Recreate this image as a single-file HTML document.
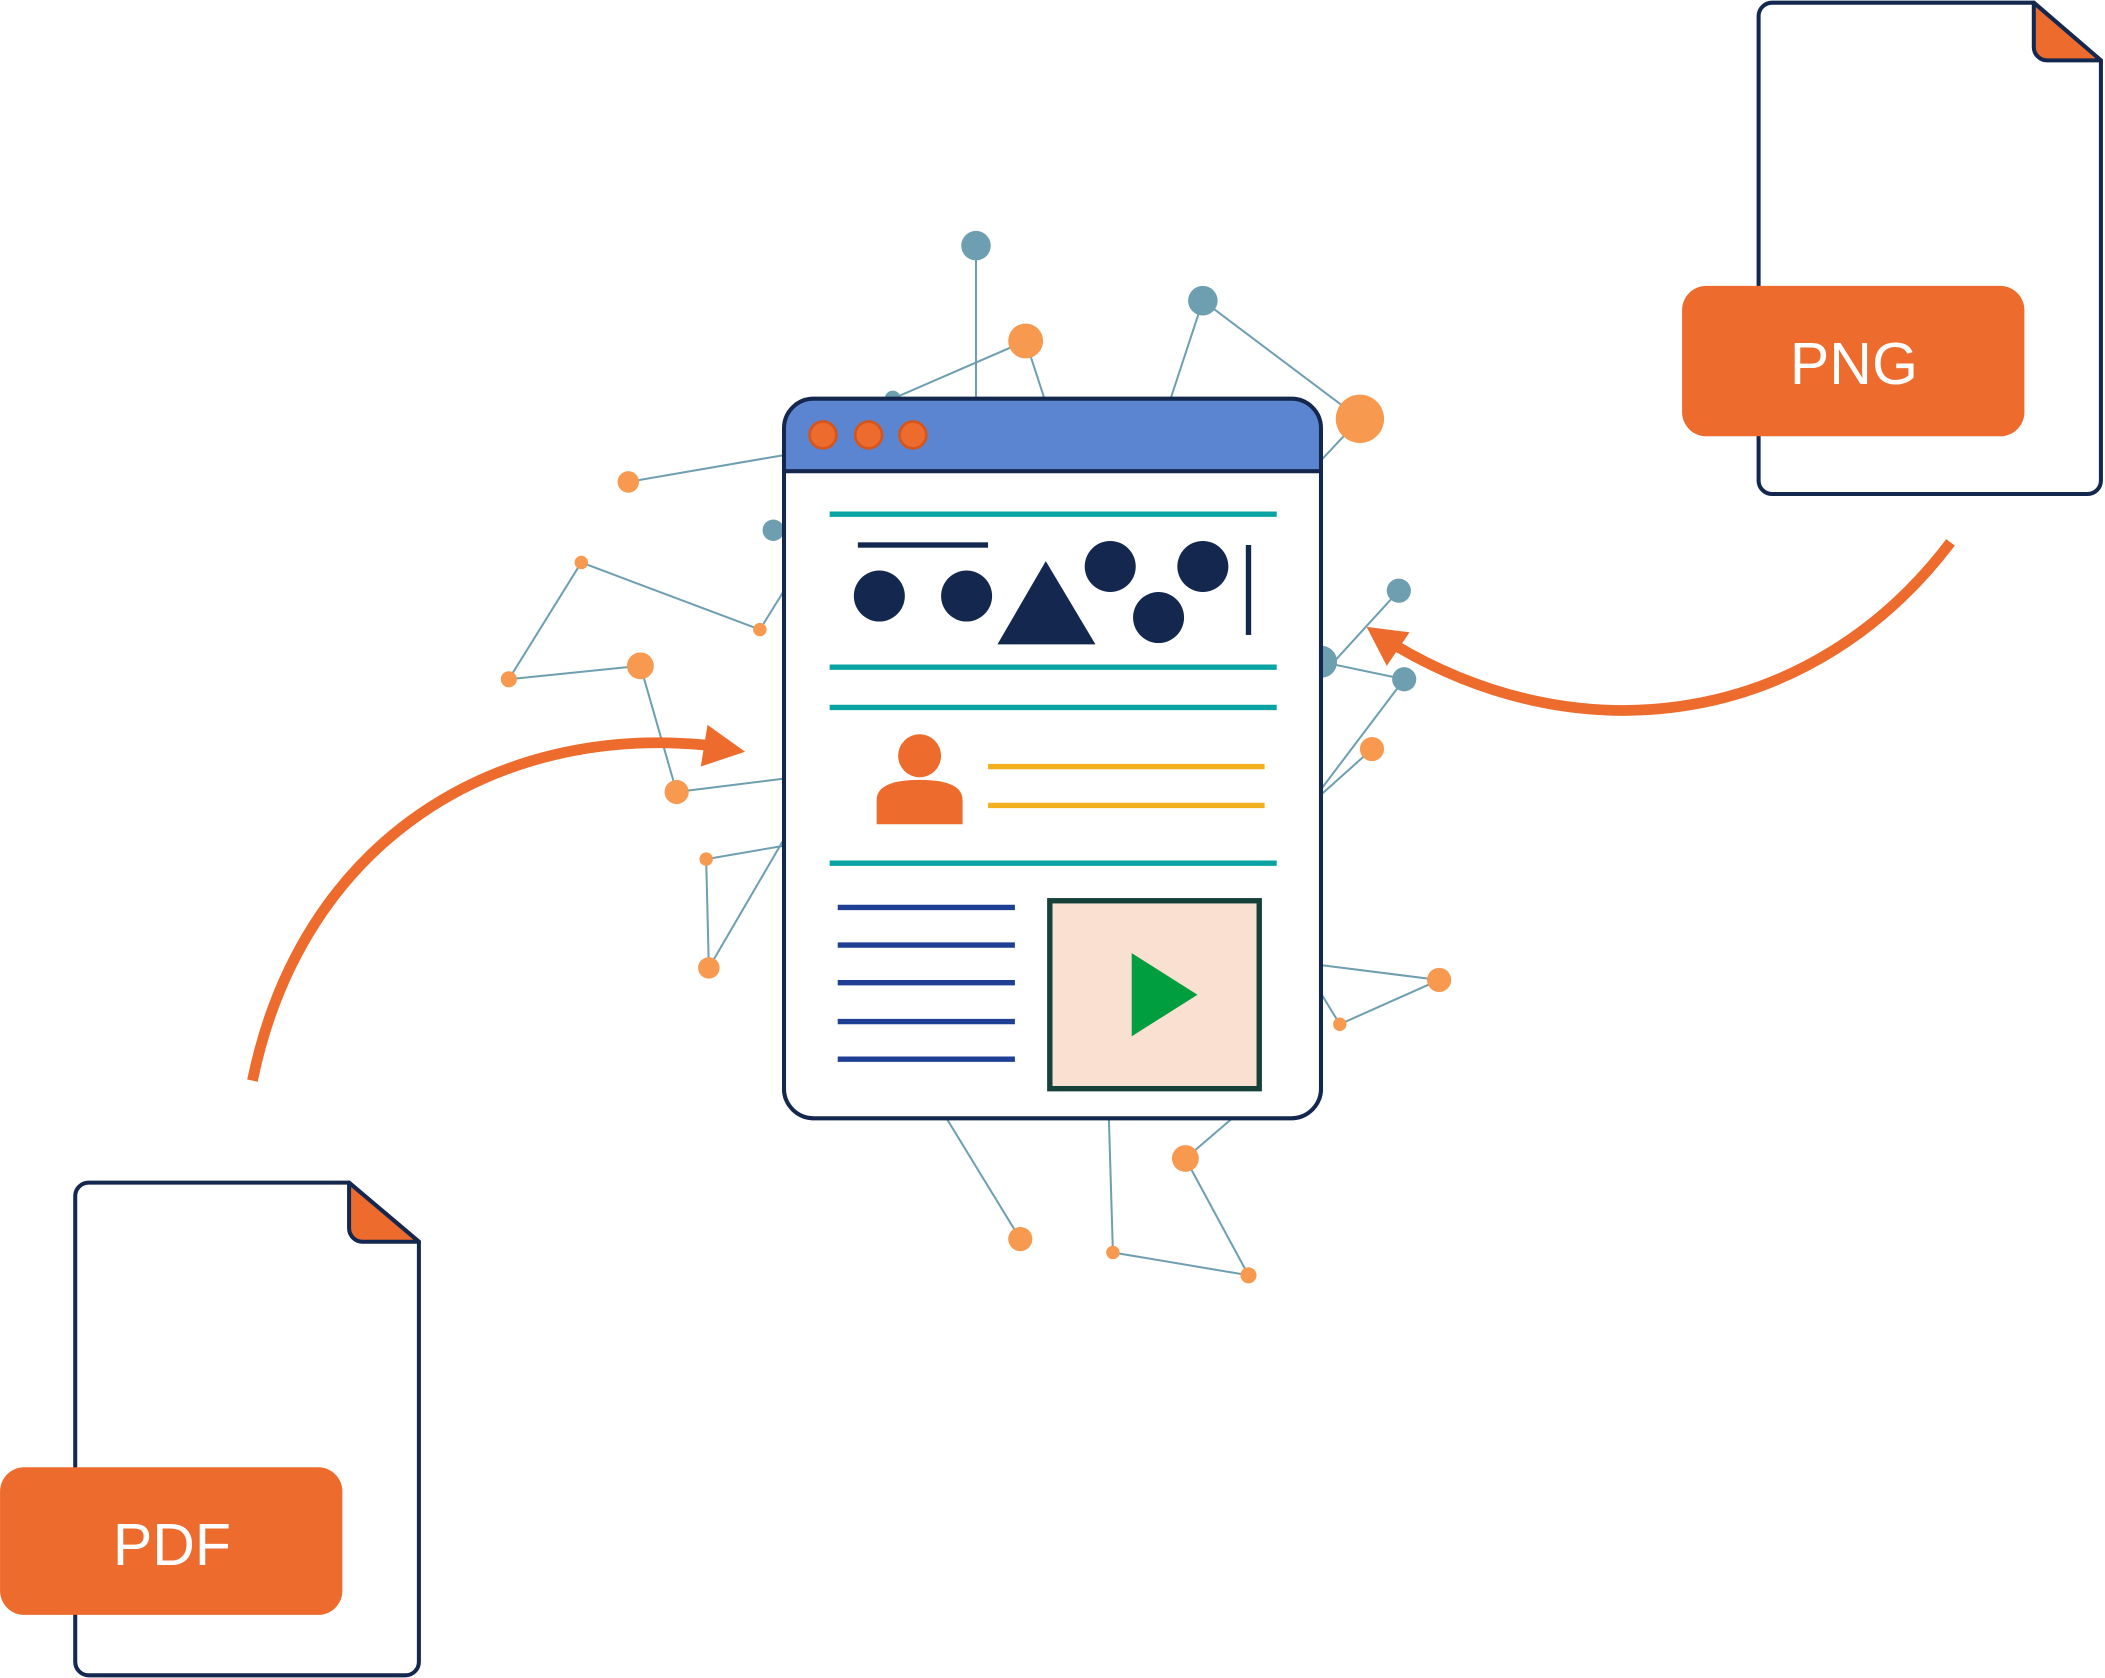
<!DOCTYPE html>
<html><head><meta charset="utf-8"><style>
html,body{margin:0;padding:0;background:#fff;}
svg{display:block;}
</style></head><body>
<svg width="2105" height="1678" viewBox="0 0 1568 1250" xmlns="http://www.w3.org/2000/svg">
<g stroke="#6e9fb0" stroke-width="1.5" fill="none">
<line x1="727" y1="183" x2="727" y2="297"/>
<line x1="665" y1="297" x2="764" y2="254"/>
<line x1="764" y1="254" x2="778" y2="297"/>
<line x1="896" y1="224" x2="872" y2="297"/>
<line x1="896" y1="224" x2="1013" y2="312"/>
<line x1="1013" y1="312" x2="984" y2="343"/>
<line x1="468" y1="359" x2="584" y2="339"/>
<line x1="433" y1="419" x2="566" y2="469"/>
<line x1="433" y1="419" x2="379" y2="506"/>
<line x1="379" y1="506" x2="477" y2="496"/>
<line x1="477" y1="496" x2="504" y2="590"/>
<line x1="504" y1="590" x2="584" y2="580"/>
<line x1="566" y1="469" x2="584" y2="440"/>
<line x1="526" y1="640" x2="584" y2="630"/>
<line x1="526" y1="640" x2="528" y2="721"/>
<line x1="528" y1="721" x2="584" y2="625"/>
<line x1="984" y1="493" x2="1046" y2="506"/>
<line x1="1042" y1="440" x2="990" y2="497"/>
<line x1="1046" y1="506" x2="984" y2="588"/>
<line x1="1022" y1="558" x2="984" y2="592"/>
<line x1="984" y1="719" x2="1072" y2="730"/>
<line x1="1072" y1="730" x2="998" y2="763"/>
<line x1="998" y1="763" x2="984" y2="740"/>
<line x1="705" y1="833" x2="760" y2="923"/>
<line x1="826" y1="833" x2="829" y2="933"/>
<line x1="829" y1="933" x2="930" y2="950"/>
<line x1="930" y1="950" x2="883" y2="863"/>
<line x1="883" y1="863" x2="918" y2="833"/>
</g>
<g fill="#6e9fb0">
<circle cx="727" cy="183" r="11"/><circle cx="665" cy="297" r="6"/><circle cx="896" cy="224" r="11"/>
<circle cx="576" cy="395" r="8"/><circle cx="984" cy="493" r="12"/><circle cx="1042" cy="440" r="9"/><circle cx="1046" cy="506" r="9"/>
</g>
<g fill="#f7994f">
<circle cx="764" cy="254" r="13"/><circle cx="1013" cy="312" r="18"/><circle cx="468" cy="359" r="8"/>
<circle cx="433" cy="419" r="5"/><circle cx="566" cy="469" r="5"/><circle cx="379" cy="506" r="6"/>
<circle cx="477" cy="496" r="10"/><circle cx="504" cy="590" r="9"/><circle cx="526" cy="640" r="5"/>
<circle cx="528" cy="721" r="8"/><circle cx="1022" cy="558" r="9"/><circle cx="1072" cy="730" r="9"/>
<circle cx="998" cy="763" r="5"/><circle cx="760" cy="923" r="9"/><circle cx="829" cy="933" r="5"/>
<circle cx="930" cy="950" r="6"/><circle cx="883" cy="863" r="10"/>
</g>
<!-- window -->
<path d="M606,297 H962 A22,22 0 0 1 984,319 V351 H584 V319 A22,22 0 0 1 606,297 Z" fill="#5b85d1"/>
<rect x="584" y="297" width="400" height="536" rx="22" fill="none" stroke="#14274e" stroke-width="3"/>
<rect x="584" y="351" width="400" height="482" fill="#fff" stroke="none"/>
<path d="M584,351 V811 A22,22 0 0 0 606,833 H962 A22,22 0 0 0 984,811 V351" fill="none" stroke="#14274e" stroke-width="3"/>
<line x1="584" y1="351" x2="984" y2="351" stroke="#14274e" stroke-width="3"/>
<g fill="#ec6b2d" stroke="#d4551d" stroke-width="2">
<circle cx="613" cy="324" r="10"/><circle cx="647" cy="324" r="10"/><circle cx="680" cy="324" r="10"/>
</g>
<g stroke="#0aa3a3" stroke-width="4">
<line x1="618" y1="383" x2="951" y2="383"/><line x1="618" y1="497" x2="951" y2="497"/>
<line x1="618" y1="527" x2="951" y2="527"/><line x1="618" y1="643" x2="951" y2="643"/>
</g>
<g fill="#14274e">
<rect x="639" y="404" width="97" height="4"/>
<circle cx="655" cy="444" r="19"/><circle cx="720" cy="444" r="19"/>
<polygon points="743,480 779,418 816,480"/>
<circle cx="827" cy="422" r="19"/><circle cx="896" cy="422" r="19"/><circle cx="863" cy="460" r="19"/>
<rect x="928" y="406" width="4" height="67"/>
</g>
<circle cx="685" cy="563" r="16" fill="#ec6b2d"/>
<path d="M653,614 V596 Q653,581 685,581 Q717,581 717,596 V614 Z" fill="#ec6b2d"/>
<g stroke="#f2b01e" stroke-width="4"><line x1="736" y1="571" x2="942" y2="571"/><line x1="736" y1="600" x2="942" y2="600"/></g>
<g stroke="#1f3f94" stroke-width="4">
<line x1="624" y1="676" x2="756" y2="676"/><line x1="624" y1="704" x2="756" y2="704"/>
<line x1="624" y1="732" x2="756" y2="732"/><line x1="624" y1="761" x2="756" y2="761"/>
<line x1="624" y1="789" x2="756" y2="789"/>
</g>
<rect x="782" y="671" width="156" height="140" fill="#f9e0d0" stroke="#16403a" stroke-width="4"/>
<polygon points="843,710 843,772 892,741" fill="#009e3f"/>
<!-- arrows -->
<path d="M188,805 C225,625 370,540 525,555" fill="none" stroke="#ec6b2d" stroke-width="8"/>
<polygon points="527,540 555,560 522,571" fill="#ec6b2d"/>
<path d="M1453,404 C1350,540 1180,565 1038,480" fill="none" stroke="#ec6b2d" stroke-width="8"/>
<polygon points="1018,467 1050,471 1033,496" fill="#ec6b2d"/>
<!-- PNG doc -->
<path d="M1320,2 H1515 L1565,45 V358 A10,10 0 0 1 1555,368 H1320 A10,10 0 0 1 1310,358 V12 A10,10 0 0 1 1320,2 Z" fill="#fff" stroke="#14274e" stroke-width="3"/>
<path d="M1515,2 V35 A10,10 0 0 0 1525,45 H1565 Z" fill="#ec6b2d" stroke="#14274e" stroke-width="3" stroke-linejoin="round"/>
<rect x="1253" y="213" width="255" height="112" rx="18" fill="#ec6b2d"/>
<text x="1381" y="286" text-anchor="middle" font-family="Liberation Sans, sans-serif" font-size="44" fill="#fff">PNG</text>
<!-- PDF doc -->
<path d="M66,881 H260 L312,925 V1238 A10,10 0 0 1 302,1248 H66 A10,10 0 0 1 56,1238 V891 A10,10 0 0 1 66,881 Z" fill="#fff" stroke="#14274e" stroke-width="3"/>
<path d="M260,881 V915 A10,10 0 0 0 270,925 H312 Z" fill="#ec6b2d" stroke="#14274e" stroke-width="3" stroke-linejoin="round"/>
<rect x="0" y="1093" width="255" height="110" rx="18" fill="#ec6b2d"/>
<text x="128" y="1166" text-anchor="middle" font-family="Liberation Sans, sans-serif" font-size="44" fill="#fff">PDF</text>
</svg>
</body></html>
